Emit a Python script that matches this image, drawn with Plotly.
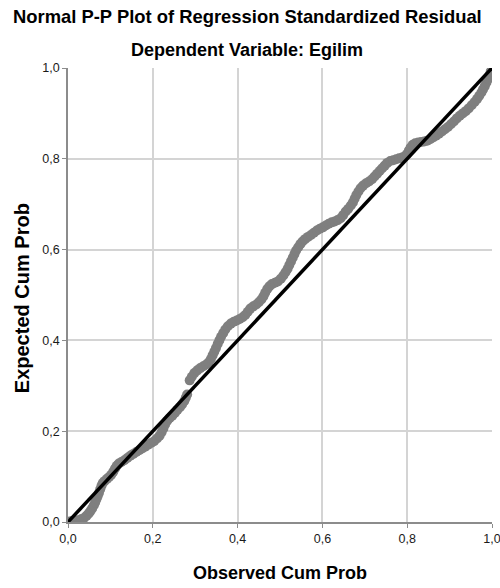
import plotly.graph_objects as go

# Observed cumulative probability (x) and expected cumulative probability (y)
observed = [
    0.003, 0.010, 0.017, 0.024, 0.031, 0.038, 0.044, 0.049, 0.053, 0.057,
    0.061, 0.064, 0.067, 0.070, 0.073, 0.076, 0.079, 0.082, 0.086, 0.092,
    0.097, 0.102, 0.107, 0.111, 0.115, 0.120, 0.126, 0.133, 0.140, 0.147,
    0.154, 0.161, 0.168, 0.175, 0.182, 0.189, 0.196, 0.203, 0.210, 0.216,
    0.221, 0.225, 0.229, 0.234, 0.240, 0.246, 0.252, 0.258, 0.264, 0.269,
    0.274, 0.278, 0.281,
    0.287, 0.292, 0.298, 0.305, 0.312, 0.319, 0.326, 0.332, 0.337, 0.341,
    0.345, 0.349, 0.353, 0.357, 0.361, 0.366, 0.371, 0.377, 0.384, 0.391,
    0.398, 0.405, 0.412, 0.418, 0.424, 0.430, 0.437, 0.444, 0.450, 0.456,
    0.461, 0.465, 0.470, 0.475, 0.481, 0.488, 0.495, 0.502, 0.508, 0.513,
    0.518, 0.522, 0.526, 0.530, 0.534, 0.538, 0.543, 0.548, 0.553, 0.559,
    0.566, 0.573, 0.580, 0.587, 0.594, 0.601, 0.608, 0.615, 0.622, 0.629,
    0.636, 0.643, 0.649, 0.655, 0.661, 0.667, 0.672, 0.676, 0.680, 0.685,
    0.690, 0.696, 0.703, 0.710, 0.717, 0.723, 0.729, 0.735, 0.741, 0.747,
    0.753, 0.760, 0.767, 0.774, 0.781, 0.788, 0.795, 0.800, 0.804, 0.808,
    0.813, 0.819, 0.826, 0.833, 0.840, 0.847, 0.854, 0.861, 0.868, 0.875,
    0.882, 0.889, 0.896, 0.903, 0.910, 0.917, 0.924, 0.931, 0.938, 0.945,
    0.952, 0.959, 0.965, 0.970, 0.975, 0.979, 0.983, 0.987, 0.991, 0.994,
    0.997,
]
expected = [
    0.001, 0.002, 0.003, 0.004, 0.006, 0.009, 0.014, 0.019, 0.024, 0.030,
    0.037, 0.043, 0.050, 0.057, 0.064, 0.072, 0.080, 0.086, 0.090, 0.095,
    0.099, 0.104, 0.111, 0.118, 0.124, 0.129, 0.132, 0.136, 0.141, 0.146,
    0.150, 0.154, 0.158, 0.162, 0.166, 0.170, 0.174, 0.178, 0.184, 0.190,
    0.198, 0.206, 0.215, 0.223, 0.229, 0.234, 0.240, 0.247, 0.253, 0.259,
    0.266, 0.274, 0.281,
    0.312, 0.320, 0.328, 0.334, 0.339, 0.343, 0.347, 0.352, 0.359, 0.367,
    0.375, 0.383, 0.392, 0.400, 0.408, 0.416, 0.424, 0.431, 0.437, 0.441,
    0.444, 0.447, 0.451, 0.456, 0.463, 0.470, 0.475, 0.479, 0.484, 0.490,
    0.497, 0.505, 0.513, 0.519, 0.524, 0.527, 0.530, 0.536, 0.543, 0.550,
    0.558, 0.566, 0.574, 0.582, 0.590, 0.598, 0.605, 0.612, 0.618, 0.623,
    0.628, 0.632, 0.637, 0.642, 0.646, 0.649, 0.653, 0.657, 0.660, 0.662,
    0.665, 0.669, 0.676, 0.684, 0.690, 0.697, 0.704, 0.712, 0.720, 0.728,
    0.735, 0.741, 0.746, 0.750, 0.755, 0.761, 0.767, 0.773, 0.779, 0.785,
    0.791, 0.795, 0.797, 0.799, 0.801, 0.803, 0.806, 0.811, 0.818, 0.825,
    0.831, 0.834, 0.836, 0.837, 0.838, 0.840, 0.843, 0.847, 0.851, 0.855,
    0.860, 0.865, 0.870, 0.876, 0.882, 0.889, 0.895, 0.900, 0.905, 0.911,
    0.918, 0.925, 0.932, 0.939, 0.946, 0.953, 0.960, 0.968, 0.976, 0.984,
    0.992,
]

ref_line = [0.0, 1.0]
tick_vals = [0.0, 0.2, 0.4, 0.6, 0.8, 1.0]
tick_text = ["0,0", "0,2", "0,4", "0,6", "0,8", "1,0"]

title_main = "Normal P-P Plot of Regression Standardized Residual"
title_sub = "Dependent Variable: Egilim"
x_title = "Observed Cum Prob"
y_title = "Expected Cum Prob"

FONT = "Liberation Sans, Arial, sans-serif"

fig = go.Figure()
fig.add_trace(go.Scatter(
    x=observed, y=expected, mode="markers",
    marker=dict(color="#7f7f7f", size=10, line=dict(width=0)),
    hoverinfo="x+y", showlegend=False,
))
fig.add_trace(go.Scatter(
    x=ref_line, y=ref_line, mode="lines",
    line=dict(color="#000000", width=3.5),
    showlegend=False, hoverinfo="skip",
))

axis_common = dict(
    range=[0, 1], tickvals=tick_vals, ticktext=tick_text,
    showgrid=True, gridcolor="#d4d4d4", gridwidth=1.5,
    showline=True, linecolor="#8c8c8c", linewidth=1.5,
    ticks="outside", ticklen=4, tickcolor="#8c8c8c", tickwidth=1,
    zeroline=False, fixedrange=True, automargin=False,
    ticklabeloverflow="allow",
    tickfont=dict(family=FONT, size=12.5, color="#1a1a1a"),
)

fig.update_layout(
    width=500, height=588,
    margin=dict(l=68, r=8, t=68, b=66),
    paper_bgcolor="white", plot_bgcolor="white",
    font=dict(family=FONT, color="#000000"),
    xaxis=dict(**axis_common),
    yaxis=dict(**axis_common),
    showlegend=False,
    annotations=[
        dict(text="<b>" + title_main + "</b>", xref="paper", yref="paper",
             x=0.4233, y=1 + 52 / 454, xanchor="center", yanchor="middle",
             showarrow=False, font=dict(family=FONT, size=18.4, color="#000000")),
        dict(text="<b>" + title_sub + "</b>", xref="paper", yref="paper",
             x=0.422, y=1 + 18 / 454, xanchor="center", yanchor="middle",
             showarrow=False, font=dict(family=FONT, size=18, color="#000000")),
        dict(text="<b>" + x_title + "</b>", xref="paper", yref="paper",
             x=0.5, y=-51 / 454, xanchor="center", yanchor="middle",
             showarrow=False, font=dict(family=FONT, size=18, color="#000000")),
        dict(text="<b>" + y_title + "</b>", xref="paper", yref="paper",
             x=-46 / 424, y=0.493, xanchor="center", yanchor="middle", textangle=-90,
             showarrow=False, font=dict(family=FONT, size=20, color="#000000")),
    ],
)

# remove the default page margin so the 500x588 figure fills the window exactly
fig.write_html(
    "out.html",
    config={"displayModeBar": False},
    post_script="document.body.style.margin='0';",
)
